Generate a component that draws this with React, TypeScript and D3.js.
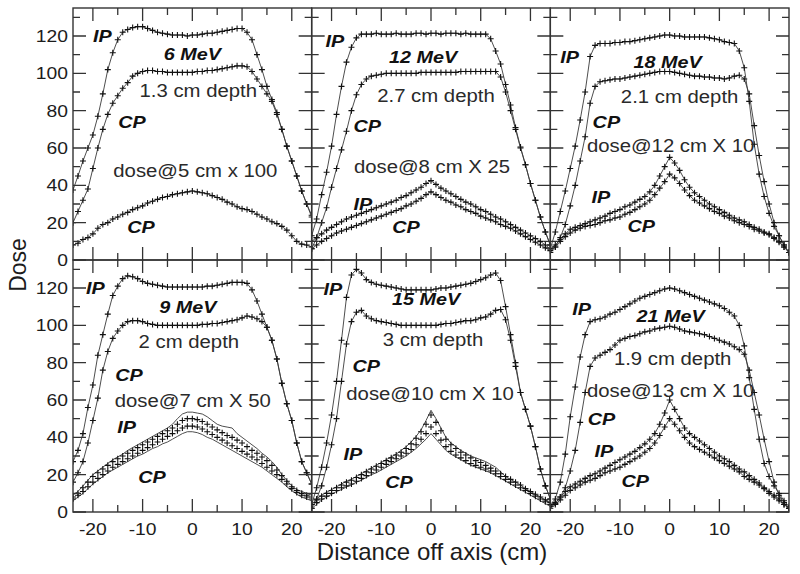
import React from "react";
import * as d3 from "d3";

const W = 800;
const H = 574;
const M = { left: 73, top: 8, right: 11, bottom: 62 };
const COLS = 3;
const ROWS = 2;
const PW = (W - M.left - M.right) / COLS;
const PH = (H - M.top - M.bottom) / ROWS;
const FONT = '"Liberation Sans", Arial, Helvetica, sans-serif';

// x positions (cm off axis) of every sample
const offAxisCm = [-24, -23, -22, -21, -20, -19, -18, -17, -16, -15, -14, -13, -12, -11, -10, -9, -8, -7, -6, -5, -4, -3, -2, -1, 0, 1, 2, 3, 4, 5, 6, 7, 8, 9, 10, 11, 12, 13, 14, 15, 16, 17, 18, 19, 20, 21, 22, 23, 24];
const xDomain = [-24, 24];
const yDomain = [0, 135];
const xMajorTicks = [-20, -10, 0, 10, 20];
const xMinorTicks = [-15, -5, 5, 15];
const yMajorTicks = [0, 20, 40, 60, 80, 100, 120];
const yMinorTicks = [10, 30, 50, 70, 90, 110, 130];
const xTickLabels = ["-20", "-10", "0", "10", "20"];
const yTickLabels = ["0", "20", "40", "60", "80", "100", "120"];

// ---------- 6 MeV ----------
const ip6 = [37.5, 45, 53, 60, 67, 77, 89, 102, 111, 118, 122, 123.5, 124.5, 125, 125, 124, 123, 122, 121.5, 121, 120.5, 120.5, 120.5, 120, 120.5, 120.5, 121, 121.5, 121.5, 122, 122.5, 123, 123.5, 124, 124, 122, 118, 110, 102, 93, 86, 79, 70, 61, 53, 45, 37, 30, 24];
const cp6 = [20, 26, 32, 38, 49, 60, 70, 78, 84, 88, 92, 95, 98.5, 100, 101, 101.5, 101.5, 101, 101, 100.5, 100.5, 100.5, 100.5, 100.5, 100.5, 101, 101, 101.5, 101.5, 102, 102.5, 103, 103.5, 104, 104, 103.5, 101, 97, 93, 89, 85, 78, 70, 61, 53, 45, 37, 30, 23];
const depth6 = [8, 9, 11, 12, 14, 17, 19, 20, 22, 23, 24.5, 25.5, 27, 28, 29, 30.5, 31.5, 32.5, 33.5, 34, 35, 35.5, 36, 36.5, 37, 36.5, 36, 35.5, 34.5, 33.5, 32.5, 31, 30, 28.5, 27.5, 27, 26, 24.5, 23, 22, 20.5, 19.5, 18, 16, 13, 10, 8.5, 8, 7];

// ---------- 12 MeV ----------
const ip12 = [13, 22, 35, 47, 61, 78, 93, 106, 114, 119, 121, 121, 121, 121.5, 121, 121, 121, 121.5, 121, 121, 121, 121.5, 121.5, 121, 121.5, 121.5, 121, 121.5, 121.5, 121.5, 121, 121.5, 121, 121, 121, 121, 118.5, 112, 105, 94, 83, 71, 60.5, 51, 41, 32, 23, 15, 8];
const cp12 = [6, 12, 20, 28, 39, 49, 59, 69, 80, 88.5, 94, 97, 98.5, 99, 99.5, 100, 100, 100, 100, 100, 100, 100, 100.5, 100.5, 100.5, 100.5, 100.5, 100.5, 100.5, 100.5, 101, 101, 101, 101, 101, 101, 101, 101, 98, 90, 80, 70, 60, 51, 41, 32, 23, 15, 8];
const ipDepth12 = [10, 12, 14, 16, 17.5, 19, 20.5, 22, 23, 24, 25, 26, 27, 28, 29, 30, 31, 32, 33.5, 34.5, 36, 37.5, 39, 41, 42.5, 40.5, 38.5, 37, 35.5, 34, 32.5, 31, 30, 28.5, 27, 26, 24.5, 23, 22, 20.5, 19, 17.5, 16, 14.5, 13, 11.5, 10, 8, 6];
const cpDepth12 = [6, 8, 10, 11.5, 13, 14.5, 15.5, 16.5, 17.5, 18.5, 19.5, 20.5, 21.5, 22.5, 23.5, 24.5, 25.5, 26.5, 27.5, 29, 30, 31.5, 33, 35, 36.5, 35, 33.5, 32, 31, 29.5, 28.5, 27, 26, 25, 23.5, 22.5, 21.5, 20.5, 19, 18, 17, 15.5, 14, 12.5, 11, 9.5, 8, 6.5, 5];

// ---------- 18 MeV ----------
const ip18 = [6, 15, 26, 37, 49, 61, 75, 90, 109, 115, 116, 116, 116, 116.5, 116.5, 117, 117, 117.5, 118, 118.5, 119, 119.5, 120, 120.5, 120.5, 120, 120, 119.5, 119.5, 119.5, 119.5, 119.5, 119, 118.5, 118, 117, 116.5, 116, 112, 103, 85, 62, 46, 34, 25, 18, 13, 8, 4];
const cp18 = [4, 7, 12, 19, 29, 40, 53, 66, 84, 93, 95.5, 96, 96.5, 97, 97, 97.5, 98, 98.5, 99, 99.5, 100, 100.5, 101, 101, 101, 100.5, 100, 99.5, 99, 98.5, 98.5, 98, 98, 97.5, 97.5, 97, 97.5, 98.5, 99, 97, 89, 72, 56, 42, 30, 20, 13, 8, 4];
const ipDepth18 = [6, 8, 11, 14, 16.5, 17.5, 18.5, 19.5, 20.5, 21.5, 22.5, 23.5, 25, 26, 27, 28.5, 29.5, 31, 32.5, 34, 36.5, 40, 45, 50, 55, 52, 48, 43, 39, 36, 34, 32, 30, 28.5, 27, 25.5, 24, 22.5, 21.5, 20.5, 19, 17.5, 16.5, 15, 14, 12, 10, 7, 4];
const cpDepth18 = [5, 7, 10, 12.5, 14.5, 16, 17, 18, 18.5, 19, 20, 21, 21.5, 22.5, 23, 24.5, 25.5, 27, 28.5, 30, 32, 35, 38.5, 42, 46, 44, 41, 37.5, 34.5, 32, 30.5, 29, 27.5, 26, 25, 23.5, 22.5, 21, 20, 19, 18, 16.5, 15.5, 14.5, 13.5, 11.5, 9.5, 7, 4];

// ---------- 9 MeV ----------
const ip9 = [27, 33, 42, 56, 68, 84, 95, 106, 116, 121, 125, 126.5, 126, 125, 123.5, 122.5, 122, 121.5, 121, 120.5, 120.5, 120.5, 120.5, 120.5, 120.5, 120.5, 120.5, 121, 121, 121.5, 122, 122.5, 123, 123, 123, 122.5, 119, 113, 106, 99, 92, 82, 69, 58, 49, 37, 27, 21, 15];
const cp9 = [16, 21, 27, 37, 49, 61, 76, 86, 93, 97, 100, 102, 102.5, 102.5, 102, 101, 100.5, 100, 100, 100, 100, 100, 100, 100, 100, 100, 100.5, 100.5, 101, 101, 101.5, 102, 102.5, 103, 104, 105, 104.5, 103.5, 102, 99, 92, 82, 69, 58, 49, 37, 27, 21, 15];
const ipDepthLine9 = [9, 11, 14, 17, 20, 22, 24, 26, 28, 29.5, 31, 33, 34.5, 36, 37.5, 39, 40.5, 42, 43.5, 45, 47, 50, 52.5, 53.5, 53.5, 53, 52.5, 51, 49, 47, 46, 45.5, 45, 42, 40, 38, 36, 34, 31.5, 29.5, 27, 24, 20, 17, 14, 12, 11, 10, 9];
const ipDepthMark9 = [8, 10, 13, 16, 19, 21, 23, 25, 27, 28.5, 30, 31.5, 33, 34.5, 36, 37.5, 39, 40.5, 42, 43.5, 45, 47, 49, 50, 50, 49.5, 48.5, 47, 45.5, 44, 42.5, 41, 40, 38.5, 37, 35, 33, 31.5, 29.5, 27.5, 25, 22.5, 19.5, 16.5, 13.5, 11.5, 10, 9, 8];
const cpDepthMark9 = [7, 9, 11, 13.5, 16, 18, 20, 22, 24, 25.5, 27, 28.5, 30, 31.5, 33, 34.5, 36, 37.5, 39, 40.5, 42, 43.5, 45, 46, 46, 45.5, 44.5, 43, 41.5, 40, 38.5, 37, 35.5, 34, 32.5, 31, 29.5, 28, 26, 24, 22, 20, 17.5, 15, 12.5, 10.5, 9, 8, 7];
const cpDepthLine9 = [6, 8, 10, 12.5, 15, 17, 19, 21, 22.5, 24, 25.5, 27, 28.5, 30, 31, 32.5, 34, 35, 36.5, 37.5, 39, 40.5, 42, 43, 43, 42.5, 41.5, 40, 39, 37.5, 36, 34.5, 33, 31.5, 30, 28.5, 27, 25.5, 24, 22, 20, 18, 16, 13.5, 11.5, 9.5, 8, 7, 6];

// ---------- 15 MeV ----------
const ip15 = [4, 13, 24, 37, 52, 70, 92, 115, 127, 130, 128, 124.5, 123, 122, 121.5, 121, 120.5, 120, 119.5, 119, 119, 119, 119, 119, 119, 119.5, 120, 120, 120.5, 121, 121.5, 122, 122.5, 123.5, 124.5, 125.5, 127, 128, 124, 110, 95, 80, 64, 55, 46, 35, 23, 14, 7];
const cp15 = [2, 7, 14, 24, 36, 50, 70, 90, 102, 107, 108, 105, 103.5, 102.5, 102, 101.5, 101, 100.5, 100, 100, 100, 100, 100, 100, 100, 100, 100.5, 101, 101, 101.5, 102, 102.5, 102.5, 103, 104, 104.5, 106, 108, 108.5, 103, 92, 78, 64, 55, 46, 35, 23, 14, 7];
const ipDepthLine15 = [4, 7, 9, 10.5, 12, 13.5, 15, 16.5, 17.5, 19, 20.5, 22, 23.5, 25, 26.5, 28, 29.5, 31, 33, 35, 37.5, 40.5, 44, 49, 54.5, 50, 45, 40, 37, 35, 33, 31.5, 30, 29, 28, 27, 25.5, 24, 21.5, 19, 17.5, 16, 14.5, 12.5, 11, 9.5, 8, 6.5, 5];
const ipDepthMark15 = [4, 6.5, 8.5, 10, 11.5, 13, 14.5, 16, 17, 18.5, 20, 21.5, 23, 24.5, 26, 27.5, 29, 30.5, 32, 34, 36.5, 39.5, 43, 47, 52, 48, 43.5, 39, 36, 34, 32, 30.5, 29, 27.5, 26.5, 25, 23.5, 22, 20.5, 19, 17.5, 16, 14.5, 12.5, 11, 9.5, 8, 6.5, 5];
const cpDepthMark15 = [2, 5, 7, 8.5, 10, 11.5, 13, 14, 15, 16.5, 18, 19.5, 21, 22.5, 24, 25.5, 27, 28.5, 30, 31.5, 33.5, 36, 39, 42, 45.5, 42, 38.5, 35, 32.5, 30.5, 29, 27.5, 26, 25, 24, 23, 22, 20.5, 19, 17.5, 16, 14.5, 13, 11.5, 10, 8.5, 7, 5.5, 4];
const cpDepthLine15 = [2, 4, 6.5, 8, 9.5, 11, 12, 13.5, 14.5, 16, 17, 18.5, 20, 21, 22.5, 24, 25.5, 27, 28.5, 30, 32, 34, 36.5, 39, 42, 39, 36, 33, 31, 29.5, 28, 26.5, 25, 24, 23, 22, 21, 19.5, 18, 16.5, 15, 13.5, 12, 10.5, 9, 7.5, 6, 4.5, 3];

// ---------- 21 MeV ----------
const ip21 = [4, 7, 16, 31, 51, 67, 83, 95, 102, 103, 103.5, 104.5, 106, 107, 108.5, 110, 111.5, 113, 114.5, 115.5, 116.5, 117.5, 118.5, 119.5, 120, 119.5, 118.5, 117.5, 116.5, 115.5, 114.5, 113.5, 112.5, 111.5, 110.5, 109, 107, 105, 100, 89, 72, 55, 39, 26, 19, 14, 10, 6, 3];
const cp21 = [3, 4.5, 8, 13, 22, 33, 48, 64, 78, 82.5, 84, 85.5, 87, 89.5, 92, 93, 94, 94.5, 95.5, 96.5, 97, 98, 98.5, 99, 99.5, 99, 98, 97, 96.5, 96, 95.5, 95, 94, 93, 92, 91, 90, 88.5, 87, 84.5, 76, 64, 52, 39, 27, 16, 9, 5, 2];
const ipDepth21 = [3, 5, 8, 11, 13.5, 15, 16.5, 18, 19.5, 20.5, 22, 23.5, 25, 26.5, 28, 29.5, 31, 32.5, 34.5, 36.5, 39, 42, 47, 53, 60, 55, 50, 45, 42, 40, 38, 36, 34, 32, 30, 28.5, 27, 25, 23, 21.5, 19.5, 17.5, 15.5, 13, 11, 9, 7, 4, 2];
const cpDepth21 = [2, 4, 6.5, 9, 11.5, 13, 14.5, 16, 17, 18, 19.5, 21, 22, 23, 24, 25.5, 27, 28.5, 30, 32, 34, 37, 41, 45.5, 50, 47, 43.5, 40, 37, 35, 33.5, 32, 30.5, 29, 27.5, 26, 24.5, 23, 21.5, 19, 17.5, 16, 14.5, 12.5, 10, 8, 6, 4, 2];

// annotations: [text, x (cm), y (dose), kind, anchor]
type Label = [string, number, number, "b" | "r", "start" | "middle"];
const labels6: Label[] = [["IP", -20, 116.8, "b", "start"], ["6 MeV", 0, 107, "b", "middle"], ["1.3 cm depth", 1.2, 87.5, "r", "middle"], ["CP", -14.9, 70.7, "b", "start"], ["dose@5 cm x 100", 0.6, 44.5, "r", "middle"], ["CP", -13.1, 14.3, "b", "start"]];
const labels12: Label[] = [["IP", -21.2, 114, "b", "start"], ["12 MeV", -1.6, 105.7, "b", "middle"], ["2.7 cm depth", 1.0, 84.8, "r", "middle"], ["CP", -15.6, 68.7, "b", "start"], ["dose@8 cm X 25", 0.2, 46.4, "r", "middle"], ["IP", -15.6, 26.8, "b", "start"], ["CP", -7.8, 14.3, "b", "start"]];
const labels18: Label[] = [["IP", -22, 105.3, "b", "start"], ["18 MeV", -0.4, 102.7, "b", "middle"], ["2.1 cm depth", 2, 83.9, "r", "middle"], ["CP", -15.5, 70.5, "b", "start"], ["dose@12 cm X 10", 0.2, 58, "r", "middle"], ["IP", -15.7, 30.4, "b", "start"], ["CP", -8.5, 15.2, "b", "start"]];
const labels9: Label[] = [["IP", -21.4, 116.7, "b", "start"], ["9 MeV", -0.9, 106.4, "b", "middle"], ["2 cm depth", -0.7, 87.7, "r", "middle"], ["CP", -15.5, 70.3, "b", "start"], ["dose@7 cm X 50", 0.1, 56.4, "r", "middle"], ["IP", -15.1, 42.1, "b", "start"], ["CP", -10.9, 15.4, "b", "start"]];
const labels15: Label[] = [["IP", -21.6, 116.2, "b", "start"], ["15 MeV", -1, 110.9, "b", "middle"], ["3 cm depth", 0.4, 88.9, "r", "middle"], ["CP", -15.8, 75.1, "b", "start"], ["dose@10 cm X 10", -0.2, 60, "r", "middle"], ["IP", -17.6, 27.9, "b", "start"], ["CP", -9.2, 12.7, "b", "start"]];
const labels21: Label[] = [["IP", -19.6, 105.5, "b", "start"], ["21 MeV", 0.2, 101.9, "b", "middle"], ["1.9 cm depth", 0.6, 78.7, "r", "middle"], ["dose@13 cm X 10", 0.2, 61.8, "r", "middle"], ["CP", -16.5, 46.6, "b", "start"], ["IP", -15.1, 29.6, "b", "start"], ["CP", -9.7, 13.6, "b", "start"]];

type Curve = { line: number[]; marks: number[] };
type Panel = { id: string; curves: Curve[]; labels: Label[] };

const panels: Panel[] = [
  { id: "p6", curves: [{ line: ip6, marks: ip6 }, { line: cp6, marks: cp6 }, { line: depth6, marks: depth6 }], labels: labels6 },
  { id: "p12", curves: [{ line: ip12, marks: ip12 }, { line: cp12, marks: cp12 }, { line: ipDepth12, marks: ipDepth12 }, { line: cpDepth12, marks: cpDepth12 }], labels: labels12 },
  { id: "p18", curves: [{ line: ip18, marks: ip18 }, { line: cp18, marks: cp18 }, { line: ipDepth18, marks: ipDepth18 }, { line: cpDepth18, marks: cpDepth18 }], labels: labels18 },
  { id: "p9", curves: [{ line: ip9, marks: ip9 }, { line: cp9, marks: cp9 }, { line: ipDepthLine9, marks: ipDepthMark9 }, { line: cpDepthLine9, marks: cpDepthMark9 }], labels: labels9 },
  { id: "p15", curves: [{ line: ip15, marks: ip15 }, { line: cp15, marks: cp15 }, { line: ipDepthLine15, marks: ipDepthMark15 }, { line: cpDepthLine15, marks: cpDepthMark15 }], labels: labels15 },
  { id: "p21", curves: [{ line: ip21, marks: ip21 }, { line: cp21, marks: cp21 }, { line: ipDepth21, marks: ipDepth21 }, { line: cpDepth21, marks: cpDepth21 }], labels: labels21 },
];

function SText(props: {
  x: number; y: number; text: string; size: number; sx: number;
  bold?: boolean; italic?: boolean; anchor?: string; fill?: string;
}) {
  const { x, y, text, size, sx, bold, italic, anchor, fill } = props;
  return (
    <text
      transform={`translate(${x},${y}) scale(${sx},1)`}
      fontSize={size}
      fontFamily={FONT}
      fontWeight={bold ? "bold" : "normal"}
      fontStyle={italic ? "italic" : "normal"}
      textAnchor={anchor || "start"}
      fill={fill || "#1c1c1c"}
    >
      {text}
    </text>
  );
}

function PanelView({ panel, col, row }: { panel: Panel; col: number; row: number }) {
  const x = d3.scaleLinear().domain(xDomain).range([0, PW]);
  const y = d3.scaleLinear().domain(yDomain).range([PH, 0]);
  const line = d3
    .line<number>()
    .x((_, i) => x(offAxisCm[i]))
    .y((d) => y(d));
  const plus = (vals: number[]) =>
    vals
      .map((v, i) => {
        const px = x(offAxisCm[i]);
        const py = y(v);
        return `M${px - 3},${py}h6M${px},${py - 3}v6`;
      })
      .join("");
  const tx = M.left + col * PW;
  const ty = M.top + row * PH;
  const MAJ = 13;
  const MIN = 7;
  const tickStroke = "#333";
  const tickPaths: string[] = [];
  xMajorTicks.forEach((t) => {
    const px = x(t);
    tickPaths.push(`M${px},${PH}v${-MAJ}M${px},0v${MAJ}`);
  });
  xMinorTicks.forEach((t) => {
    const px = x(t);
    tickPaths.push(`M${px},${PH}v${-MIN}M${px},0v${MIN}`);
  });
  yMajorTicks.forEach((t) => {
    const py = y(t);
    tickPaths.push(`M0,${py}h${MAJ}M${PW},${py}h${-MAJ}`);
  });
  yMinorTicks.forEach((t) => {
    const py = y(t);
    tickPaths.push(`M0,${py}h${MIN}M${PW},${py}h${-MIN}`);
  });
  return (
    <g transform={`translate(${tx},${ty})`}>
      <defs>
        <clipPath id={`clip-${panel.id}`}>
          <rect x={0} y={0} width={PW} height={PH} />
        </clipPath>
      </defs>
      <g clipPath={`url(#clip-${panel.id})`}>
        {panel.curves.map((c, i) => (
          <g key={i}>
            <path d={line(c.line) || ""} fill="none" stroke="#3a3a3a" strokeWidth={0.9} />
            <path d={plus(c.marks)} fill="none" stroke="#111" strokeWidth={1.1} />
          </g>
        ))}
      </g>
      <path d={tickPaths.join("")} stroke={tickStroke} strokeWidth={1.3} fill="none" />
      <rect x={0} y={0} width={PW} height={PH} fill="none" stroke="#333" strokeWidth={1.4} />
      {panel.labels.map((l, i) =>
        l[3] === "b" ? (
          <SText key={i} x={x(l[1])} y={y(l[2])} text={l[0]} size={16.5} sx={1.2} bold italic anchor={l[4]} fill="#111" />
        ) : (
          <SText key={i} x={x(l[1])} y={y(l[2])} text={l[0]} size={18} sx={1.13} anchor={l[4]} fill="#2a2a2a" />
        )
      )}
      {col === 0 &&
        yMajorTicks.map((t, i) => (
          <SText key={`yl${i}`} x={-5} y={y(t) + 6} text={yTickLabels[i]} size={16.5} sx={1.17} anchor="end" />
        ))}
      {row === ROWS - 1 &&
        xMajorTicks.map((t, i) => (
          <SText key={`xl${i}`} x={x(t)} y={PH + 23} text={xTickLabels[i]} size={16.5} sx={1.17} anchor="middle" />
        ))}
    </g>
  );
}

export default function App() {
  return (
    <svg
      width={W}
      height={H}
      viewBox={`0 0 ${W} ${H}`}
      style={{ position: "absolute", left: 0, top: 0, background: "#fff" }}
    >
      <rect x={0} y={0} width={W} height={H} fill="#fff" />
      {panels.map((p, i) => (
        <PanelView key={p.id} panel={p} col={i % COLS} row={Math.floor(i / COLS)} />
      ))}
      <text
        transform={`translate(26,265) rotate(-90)`}
        fontSize={23}
        fontFamily={FONT}
        textAnchor="middle"
        fill="#1c1c1c"
      >
        Dose
      </text>
      <text x={432} y={560} fontSize={24} fontFamily={FONT} textAnchor="middle" fill="#1c1c1c">
        Distance off axis (cm)
      </text>
    </svg>
  );
}
